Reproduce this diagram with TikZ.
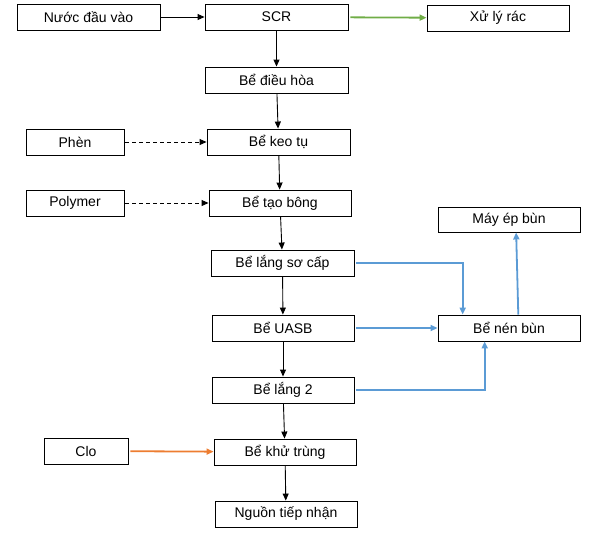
\documentclass[tikz,border=0pt]{standalone}
\usepackage{fontspec}
\setmainfont{Liberation Sans}
\usetikzlibrary{arrows.meta,calc}
\definecolor{cblue}{HTML}{5B9BD5}
\definecolor{cgreen}{HTML}{70AD47}
\definecolor{corange}{HTML}{ED7D31}
\begin{document}
\begin{tikzpicture}[x=1pt,y=-1pt,
  box/.style={draw,line width=0.9pt,inner sep=0pt,minimum height=26pt,font=\fontsize{14}{16}\selectfont},
  tip/.style={-{Triangle[length=7pt,width=6pt]}},
  blk/.style={tip,line width=0.9pt},
  col/.style={tip,line width=1.8pt,shorten <=2pt}]
\useasboundingbox (0,0) rectangle (597,533);
\node[box,minimum width=143pt] (nuoc) at (88.5,17) {Nước đầu vào};
\node[box,minimum width=143pt] (scr) at (276.5,17) {SCR};
\node[box,minimum width=142pt] (rac) at (498,18) {Xử lý rác};
\node[box,minimum width=143pt] (dieuhoa) at (276.5,80) {Bể điều hòa};
\node[box,minimum width=98pt] (phen) at (75,142) {Phèn};
\node[box,minimum width=143pt] (keotu) at (278.5,142) {Bể keo tụ};
\node[box,minimum width=98pt] (poly) at (75,203) {Polymer};
\node[box,minimum width=142pt] (taobong) at (280,203) {Bể tạo bông};
\node[box,minimum width=143pt] (lsc) at (282.5,263) {Bể lắng sơ cấp};
\node[box,minimum width=142pt] (uasb) at (283,328) {Bể UASB};
\node[box,minimum width=142pt] (lang2) at (283,390) {Bể lắng 2};
\node[box,minimum width=84pt] (clo) at (86,451) {Clo};
\node[box,minimum width=142pt] (khu) at (285,452) {Bể khử trùng};
\node[box,minimum width=142pt] (nguon) at (286,514) {Nguồn tiếp nhận};
\node[box,minimum width=142pt,minimum height=25pt] (mayep) at (509,219.5) {Máy ép bùn};
\node[box,minimum width=142pt] (nenbun) at (509,328) {Bể nén bùn};
% main flow
\draw[blk] (nuoc) -- (scr);
\draw[blk] (scr) -- (dieuhoa);
\draw[blk] (dieuhoa) -- (keotu);
\draw[blk] (keotu) -- (taobong);
\draw[blk] (taobong) -- (lsc);
\draw[blk] (lsc) -- (uasb);
\draw[blk] (uasb) -- (lang2);
\draw[blk] (lang2) -- (khu);
\draw[blk] (khu) -- (nguon);
% chemicals
\draw[blk,dash pattern=on 4pt off 3pt,shorten <=1pt] (phen) -- (keotu);
\draw[blk,dash pattern=on 4pt off 3pt,shorten <=1pt] (poly) -- (taobong);
\draw[col,draw=corange,-{Triangle[length=7pt,width=6pt,fill=corange]}] (clo) -- (khu);
\draw[col,draw=cgreen,-{Triangle[length=7pt,width=6pt,fill=cgreen]}] (scr) -- (rac);
% sludge
\draw[col,draw=cblue,-{Triangle[length=7pt,width=6pt,fill=cblue]}] (lsc.east) -| ($(nenbun.north west)!0.176!(nenbun.north east)$);
\draw[col,draw=cblue,-{Triangle[length=7pt,width=6pt,fill=cblue]}] (uasb) -- (nenbun);
\draw[col,draw=cblue,-{Triangle[length=7pt,width=6pt,fill=cblue]}] (lang2.east) -| ($(nenbun.south west)!0.33!(nenbun.south east)$);
\draw[col,draw=cblue,-{Triangle[length=7pt,width=6pt,fill=cblue]},shorten <=0pt] ($(nenbun.north west)!0.565!(nenbun.north east)$) -- ($(mayep.south west)!0.55!(mayep.south east)$);
\end{tikzpicture}
\end{document}
